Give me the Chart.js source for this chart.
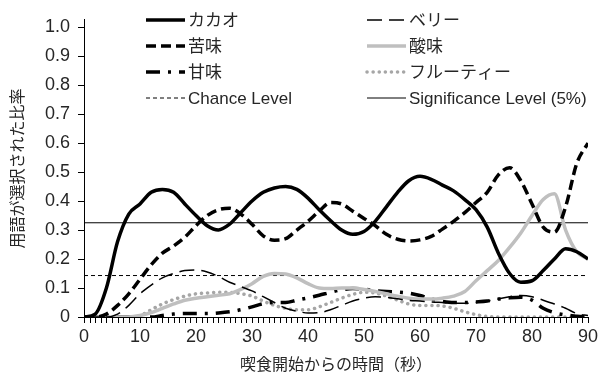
<!DOCTYPE html>
<html>
<head>
<meta charset="utf-8">
<script src="https://cdn.jsdelivr.net/npm/chart.js@4.4.1/dist/chart.umd.min.js"></script>
<style>
  html, body { margin: 0; padding: 0; background: #fff; }
  #wrap { width: 602px; height: 378px; }
</style>
</head>
<body>
<div id="wrap"><canvas id="chart-canvas" width="602" height="378"></canvas></div>
<script>
// time since start of eating (s)
const seconds = [0, 2, 4, 6, 8, 10, 12, 14, 16, 18, 20, 22, 24, 26, 28, 30, 32, 34, 36, 38,
                 40, 42, 44, 46, 48, 50, 52, 54, 56, 58, 60, 62, 64, 66, 68, 70, 72, 74, 76, 78,
                 80, 82, 84, 86, 88, 90];

// ratio of the term being selected
const cacao  = [0, 0.01, 0.1, 0.26, 0.355, 0.39, 0.43, 0.44, 0.43, 0.39,
                0.35, 0.315, 0.30, 0.32, 0.36, 0.40, 0.43, 0.445, 0.45, 0.44,
                0.41, 0.37, 0.333, 0.30, 0.285, 0.295, 0.33, 0.38, 0.43, 0.47,
                0.485, 0.475, 0.455, 0.435, 0.405, 0.37, 0.31, 0.22, 0.15, 0.12,
                0.125, 0.16, 0.20, 0.235, 0.225, 0.20];
const berry  = [0, 0, 0, 0.01, 0.04, 0.08, 0.11, 0.135, 0.15, 0.16,
                0.162, 0.155, 0.14, 0.12, 0.105, 0.09, 0.07, 0.05, 0.03, 0.02,
                0.014, 0.015, 0.025, 0.04, 0.055, 0.065, 0.07, 0.068, 0.063, 0.057,
                0.055, 0.052, 0.05, 0.048, 0.047, 0.05, 0.055, 0.062, 0.07, 0.074,
                0.07, 0.058, 0.045, 0.03, 0.012, 0.005];
const bitter = [0, 0, 0.01, 0.04, 0.08, 0.13, 0.18, 0.22, 0.245, 0.275,
                0.315, 0.35, 0.37, 0.375, 0.355, 0.32, 0.28, 0.265, 0.27, 0.30,
                0.33, 0.365, 0.395, 0.39, 0.365, 0.34, 0.315, 0.285, 0.268, 0.262,
                0.266, 0.278, 0.303, 0.33, 0.36, 0.395, 0.43, 0.49, 0.515, 0.47,
                0.39, 0.31, 0.293, 0.38, 0.53, 0.60];
const sour   = [0, 0, 0, 0, 0, 0.005, 0.015, 0.03, 0.045, 0.058,
                0.065, 0.07, 0.075, 0.08, 0.095, 0.115, 0.14, 0.15, 0.148, 0.135,
                0.115, 0.10, 0.098, 0.10, 0.10, 0.095, 0.088, 0.08, 0.072, 0.065,
                0.062, 0.062, 0.065, 0.072, 0.088, 0.125, 0.16, 0.195, 0.24, 0.29,
                0.35, 0.405, 0.425, 0.30, 0.225, 0.20];
const sweet  = [0, 0, 0, 0, 0, 0, 0, 0.005, 0.01, 0.012,
                0.012, 0.012, 0.014, 0.018, 0.025, 0.035, 0.046, 0.05, 0.05, 0.058,
                0.066, 0.075, 0.085, 0.094, 0.098, 0.096, 0.091, 0.088, 0.086, 0.082,
                0.074, 0.062, 0.054, 0.05, 0.05, 0.052, 0.055, 0.062, 0.066, 0.068,
                0.058, 0.03, 0.015, 0.007, 0.003, 0];
const fruity = [0, 0, 0, 0, 0, 0.005, 0.025, 0.045, 0.06, 0.072,
                0.08, 0.083, 0.085, 0.085, 0.08, 0.072, 0.055, 0.04, 0.03, 0.025,
                0.025, 0.035, 0.05, 0.065, 0.078, 0.085, 0.083, 0.072, 0.058, 0.045,
                0.04, 0.04, 0.038, 0.03, 0.018, 0.008, 0.002, 0, 0, 0,
                0, 0, 0, 0, 0, 0];

const chanceLevel = 0.143;
const significanceLevel = 0.325;

const yTicks = [0, 0.1, 0.2, 0.3, 0.4, 0.5, 0.6, 0.7, 0.8, 0.9, 1.0];

const FONT = "'Liberation Sans', 'Noto Sans CJK JP', sans-serif";
const TEXT = '#262626';

function pts(ys) {
    return ys.map((y, i) => ({x: seconds[i], y: y}));
}
function flat(y) {
    return [{x: seconds[0], y: y}, {x: seconds[seconds.length - 1], y: y}];
}

// legend laid out in two columns, drawn by hand
const legendGrid = {
    id: 'legendGrid',
    afterDraw(chart, args, opts) {
        const ctx = chart.ctx;
        ctx.save();
        ctx.font = opts.fontSize + 'px ' + FONT;
        ctx.textBaseline = 'middle';
        ctx.fillStyle = TEXT;
        chart.data.datasets.forEach((ds, i) => {
            const x = opts.cols[i % 2];
            const y = opts.rows[Math.floor(i / 2)];
            ctx.save();
            ctx.strokeStyle = ds.borderColor;
            ctx.lineWidth = ds.borderWidth;
            ctx.lineCap = ds.borderCapStyle || 'butt';
            ctx.setLineDash(ds.borderDash || []);
            ctx.beginPath();
            ctx.moveTo(x, y);
            ctx.lineTo(x + opts.lineLen, y);
            ctx.stroke();
            ctx.restore();
            ctx.fillText(ds.label, x + opts.lineLen + opts.gap, y + 1);
        });
        ctx.restore();
    }
};

// outward tick marks at every tick of both axes
const tickMarks = {
    id: 'tickMarks',
    afterDraw(chart, args, opts) {
        const ctx = chart.ctx;
        const {x, y} = chart.scales;
        const area = chart.chartArea;
        ctx.save();
        ctx.strokeStyle = opts.color;
        ctx.lineWidth = 1;
        ctx.setLineDash([]);
        ctx.beginPath();
        x.ticks.forEach(t => {
            const px = Math.round(x.getPixelForValue(t.value)) + 0.5;
            ctx.moveTo(px, area.bottom);
            ctx.lineTo(px, area.bottom + opts.len);
        });
        y.ticks.forEach(t => {
            const py = Math.round(y.getPixelForValue(t.value)) + 0.5;
            ctx.moveTo(area.left - opts.len, py);
            ctx.lineTo(area.left, py);
        });
        ctx.stroke();
        ctx.restore();
    }
};

var lineChart = document.getElementById('chart-canvas');

new Chart(lineChart, {
    type: 'line',
    data: {
        datasets: [
            {label: 'カカオ', data: pts(cacao), borderColor: '#000', borderWidth: 3.5},
            {label: 'ベリー', data: pts(berry), borderColor: '#000', borderWidth: 1.5, borderDash: [15, 7]},
            {label: '苦味', data: pts(bitter), borderColor: '#000', borderWidth: 3.5, borderDash: [10, 5]},
            {label: '酸味', data: pts(sour), borderColor: '#bfbfbf', borderWidth: 3.5},
            {label: '甘味', data: pts(sweet), borderColor: '#000', borderWidth: 3.5, borderDash: [14, 8, 3, 8]},
            {label: 'フルーティー', data: pts(fruity), borderColor: '#a6a6a6', borderWidth: 3.5,
             borderDash: [0.1, 6], borderCapStyle: 'round'},
            {label: 'Chance Level', data: flat(chanceLevel), borderColor: '#000', borderWidth: 1, borderDash: [4, 3]},
            {label: 'Significance Level (5%)', data: flat(significanceLevel), borderColor: '#000', borderWidth: 1}
        ]
    },
    options: {
        responsive: false,
        animation: false,
        devicePixelRatio: 1,
        layout: {padding: {left: 0, right: 14, top: 12, bottom: 0}},
        elements: {
            point: {radius: 0},
            line: {cubicInterpolationMode: 'monotone', fill: false}
        },
        plugins: {
            legend: {display: false},
            tooltip: {enabled: false},
            legendGrid: {cols: [146, 367], rows: [20, 46, 72, 98], lineLen: 39, gap: 3, fontSize: 17},
            tickMarks: {len: 6, color: '#000'}
        },
        scales: {
            x: {
                type: 'linear',
                min: 0,
                max: 90,
                afterFit: (s) => { s.height = 61; },
                grid: {drawOnChartArea: false, tickLength: 6, color: 'rgba(0,0,0,0)'},
                border: {display: true, color: '#000', width: 1},
                ticks: {
                    stepSize: 1,
                    autoSkip: false,
                    maxRotation: 0,
                    padding: 3,
                    color: TEXT,
                    font: {family: FONT, size: 18},
                    callback: (v) => (v % 10 === 0 ? String(v) : ' ')
                },
                title: {
                    display: true,
                    text: '喫食開始からの時間（秒）',
                    color: TEXT,
                    font: {family: FONT, size: 16},
                    padding: 3
                }
            },
            y: {
                min: 0,
                max: 1.025,
                afterFit: (s) => { s.width = 84; },
                afterBuildTicks: (s) => { s.ticks = yTicks.map(v => ({value: v})); },
                grid: {drawOnChartArea: false, tickLength: 5, color: 'rgba(0,0,0,0)'},
                border: {display: true, color: '#000', width: 1},
                ticks: {
                    padding: 9,
                    color: TEXT,
                    font: {family: FONT, size: 18},
                    callback: (v) => (v === 0 ? '0' : v.toFixed(1))
                },
                title: {
                    display: true,
                    text: '用語が選択された比率',
                    color: TEXT,
                    font: {family: FONT, size: 16},
                    padding: 9
                }
            }
        }
    },
    plugins: [legendGrid, tickMarks]
});
</script>
</body>
</html>
